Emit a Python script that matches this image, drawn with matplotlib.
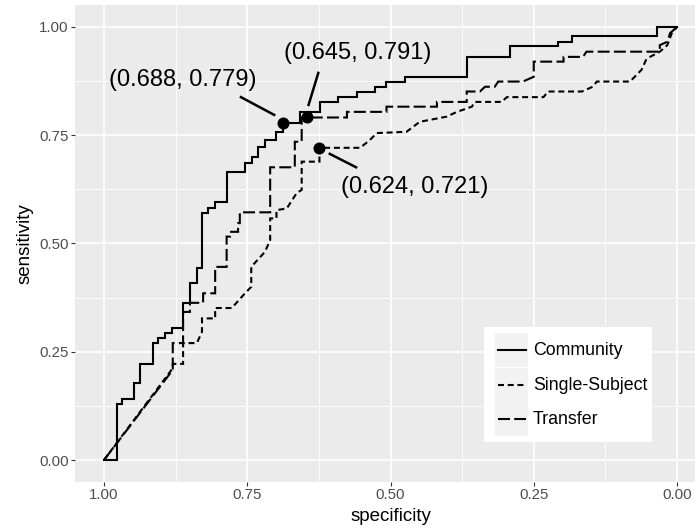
import numpy as np
import matplotlib
matplotlib.use("Agg")
import matplotlib.pyplot as plt
from matplotlib.patches import Rectangle
from matplotlib.lines import Line2D

plt.rcParams['font.family'] = ['Liberation Sans', 'DejaVu Sans']
plt.rcParams['lines.scale_dashes'] = False

# ROC curve vertices (specificity, sensitivity)
community_spec = [1.000, 0.978, 0.978, 0.969, 0.969, 0.948, 0.948, 0.937, 0.937, 0.914,
                  0.914, 0.905, 0.905, 0.894, 0.894, 0.882, 0.882, 0.862, 0.862, 0.850,
                  0.850, 0.838, 0.838, 0.829, 0.829, 0.818, 0.818, 0.806, 0.806, 0.785,
                  0.785, 0.754, 0.754, 0.742, 0.742, 0.731, 0.731, 0.719, 0.719, 0.699,
                  0.699, 0.688, 0.688, 0.658, 0.658, 0.623, 0.623, 0.591, 0.591, 0.559,
                  0.559, 0.527, 0.527, 0.507, 0.507, 0.475, 0.475, 0.367, 0.367, 0.291,
                  0.291, 0.207, 0.207, 0.184, 0.184, 0.035, 0.035, 0.000]
community_sens = [0.000, 0.000, 0.129, 0.129, 0.140, 0.140, 0.177, 0.177, 0.222, 0.222,
                  0.270, 0.270, 0.281, 0.281, 0.293, 0.293, 0.304, 0.304, 0.362, 0.362,
                  0.408, 0.408, 0.443, 0.443, 0.570, 0.570, 0.582, 0.582, 0.596, 0.596,
                  0.665, 0.665, 0.686, 0.686, 0.700, 0.700, 0.723, 0.723, 0.739, 0.739,
                  0.758, 0.758, 0.779, 0.779, 0.804, 0.804, 0.827, 0.827, 0.838, 0.838,
                  0.851, 0.851, 0.862, 0.862, 0.874, 0.874, 0.885, 0.885, 0.931, 0.931,
                  0.956, 0.956, 0.966, 0.966, 0.979, 0.979, 1.000, 1.000]

single_spec = [1.000, 0.880, 0.880, 0.862, 0.862, 0.838, 0.829, 0.829, 0.806, 0.806,
               0.777, 0.754, 0.743, 0.743, 0.719, 0.710, 0.710, 0.699, 0.699, 0.681,
               0.664, 0.655, 0.655, 0.624, 0.624, 0.553, 0.536, 0.524, 0.472, 0.463,
               0.449, 0.402, 0.384, 0.358, 0.353, 0.306, 0.297, 0.233, 0.225, 0.166,
               0.147, 0.140, 0.082, 0.062, 0.054, 0.047, 0.030, 0.017, 0.009, 0.000]
single_sens = [0.000, 0.212, 0.222, 0.222, 0.270, 0.270, 0.296, 0.327, 0.327, 0.351,
               0.351, 0.385, 0.400, 0.446, 0.481, 0.508, 0.558, 0.558, 0.577, 0.581,
               0.616, 0.624, 0.689, 0.689, 0.721, 0.721, 0.739, 0.755, 0.758, 0.767,
               0.781, 0.793, 0.804, 0.816, 0.827, 0.827, 0.838, 0.838, 0.851, 0.851,
               0.862, 0.874, 0.874, 0.901, 0.924, 0.931, 0.943, 0.958, 0.986, 1.000]

transfer_spec = [1.000, 0.880, 0.880, 0.862, 0.862, 0.850, 0.850, 0.827, 0.827, 0.806,
                 0.806, 0.786, 0.786, 0.780, 0.780, 0.766, 0.766, 0.763, 0.763, 0.710,
                 0.710, 0.667, 0.667, 0.655, 0.655, 0.576, 0.576, 0.507, 0.507, 0.419,
                 0.419, 0.367, 0.367, 0.344, 0.335, 0.318, 0.312, 0.269, 0.250, 0.250,
                 0.198, 0.198, 0.164, 0.158, 0.030, 0.030, 0.017, 0.012, 0.000]
transfer_sens = [0.000, 0.208, 0.270, 0.270, 0.342, 0.342, 0.363, 0.363, 0.385, 0.385,
                 0.446, 0.446, 0.516, 0.516, 0.527, 0.527, 0.547, 0.547, 0.572, 0.572,
                 0.676, 0.676, 0.735, 0.735, 0.791, 0.791, 0.804, 0.804, 0.816, 0.816,
                 0.827, 0.827, 0.851, 0.851, 0.862, 0.862, 0.874, 0.874, 0.885, 0.920,
                 0.920, 0.931, 0.931, 0.943, 0.943, 0.958, 0.966, 0.986, 1.000]

series_names = ['Community', 'Single-Subject', 'Transfer']

# best thresholds
best_spec = [0.688, 0.645, 0.624]
best_sens = [0.779, 0.791, 0.721]

# label placement (text centre and leader line ends, in data units)
label_pos = [(0.863, 0.878), (0.558, 0.940), (0.457, 0.630)]
leader_from = [(0.761, 0.838), (0.626, 0.894), (0.606, 0.707)]
leader_to = [(0.703, 0.797), (0.643, 0.820), (0.560, 0.676)]

styles = {
    'Community': dict(ls='-'),
    'Single-Subject': dict(dashes=(4.3, 2.7)),
    'Transfer': dict(dashes=(8.6, 3.1)),
}

fig = plt.figure(figsize=(6.95, 5.31), dpi=100)
ax = fig.add_axes([75.35 / 695, (531 - 481.65) / 531, 630.3 / 695, 476.3 / 531])
ax.set_facecolor('#EBEBEB')

curves = {
    'Community': (community_spec, community_sens),
    'Single-Subject': (single_spec, single_sens),
    'Transfer': (transfer_spec, transfer_sens),
}
for name in series_names:
    sp, se = curves[name]
    ax.plot(sp, se, color='black', lw=1.5, solid_joinstyle='miter',
            dash_joinstyle='miter', zorder=3, **styles[name])

ax.scatter(best_spec, best_sens, s=75, color='black', zorder=4, linewidths=0)

for i in range(len(best_spec)):
    ax.plot([leader_from[i][0], leader_to[i][0]], [leader_from[i][1], leader_to[i][1]],
            color='black', lw=1.8, zorder=4)
    ax.text(label_pos[i][0], label_pos[i][1], '(%.3f, %.3f)' % (best_spec[i], best_sens[i]),
            fontsize=17, ha='center', va='center', zorder=5)

ax.set_xlim(1.05, -0.05)
ax.set_ylim(-0.05, 1.05)
ticks = [0, 0.25, 0.5, 0.75, 1.0]
ax.set_xticks(ticks)
ax.set_yticks(ticks)
ax.set_xticklabels(['%.2f' % t for t in ticks])
ax.set_yticklabels(['%.2f' % t for t in ticks])
ax.set_xticks([0.125, 0.375, 0.625, 0.875], minor=True)
ax.set_yticks([0.125, 0.375, 0.625, 0.875], minor=True)
ax.grid(which='major', color='white', lw=1.2, zorder=0)
ax.grid(which='minor', color='white', lw=0.6, zorder=0)
ax.set_axisbelow(True)
ax.tick_params(which='major', length=2.9, width=0.8, color='#333333', pad=2,
               labelsize=10.8, labelcolor='#4D4D4D')
ax.tick_params(which='minor', length=0)
for s in ax.spines.values():
    s.set_visible(False)

ax.set_xlabel('specificity', fontsize=13.5, labelpad=4)
ax.set_ylabel('sensitivity', fontsize=13.5, labelpad=4)

# legend drawn by hand to get the grey key boxes
ax.add_patch(Rectangle((0.6484, 0.0833), 0.2665, 0.2414, transform=ax.transAxes,
                       facecolor='white', edgecolor='none', zorder=6))
row_y = [0.2764, 0.2029, 0.1305]
for name, y in zip(series_names, row_y):
    ax.add_patch(Rectangle((0.6658, y - 0.0357), 0.0530, 0.0714, transform=ax.transAxes,
                           facecolor='#F2F2F2', edgecolor='none', zorder=7))
    ax.add_line(Line2D([0.6706, 0.7150], [y, y], transform=ax.transAxes, color='black',
                       lw=1.5, zorder=8, **styles[name]))
    ax.text(0.7262, y, name, transform=ax.transAxes, fontsize=12.8, va='center',
            ha='left', zorder=8)

fig.savefig('out.png', dpi=100)
